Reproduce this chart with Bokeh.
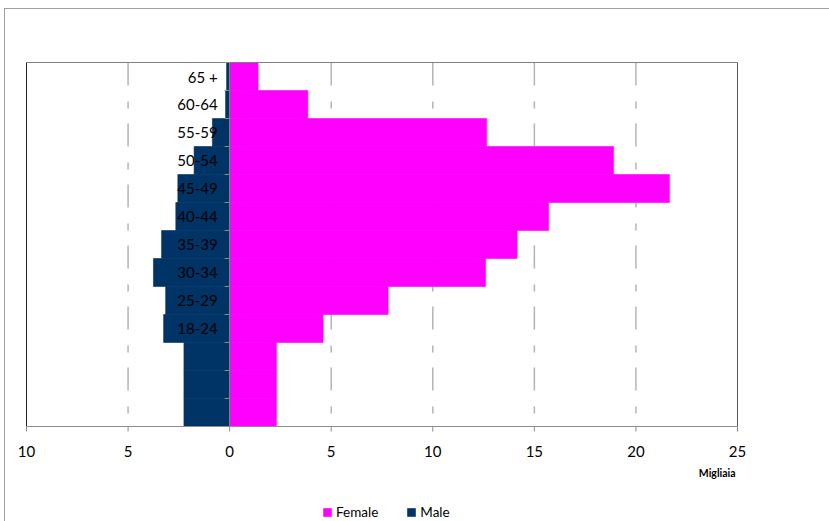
import numpy as np
from bokeh.plotting import figure
from bokeh.models import ColumnDataSource, Legend, LegendItem, Range1d
from bokeh.core.properties import value
from bokeh.embed import file_html
from bokeh.resources import INLINE

# Age groups from oldest (top) to youngest (bottom); last three rows are unlabelled
age_groups = ["65 +", "60-64", "55-59", "50-54", "45-49", "40-44", "35-39",
              "30-34", "25-29", "18-24", "", "", ""]
# Values in thousands (Migliaia)
female = [1.4, 3.85, 12.65, 18.9, 21.65, 15.7, 14.15, 12.6, 7.8, 4.6, 2.3, 2.3, 2.3]
male = [0.15, 0.2, 0.85, 1.75, 2.55, 2.65, 3.35, 3.75, 3.15, 3.25, 2.25, 2.25, 2.25]
x_ticks = [-10, -5, 0, 5, 10, 15, 20, 25]
x_tick_labels = ["10", "5", "0", "5", "10", "15", "20", "25"]
grid_at = [-5, 5, 10, 15, 20]
unit_label = "Migliaia"

n = len(age_groups)
X_MIN, X_MAX = -10, 25
Y_BOT, Y_TOP = -0.5, n - 0.5

# --- page layout (pixels) ---
FIG_W, FIG_H = 825, 513
CANVAS_X0, CANVAS_Y0 = 5, 9          # canvas origin on the page (margin + border)
PLOT_L, PLOT_R = 26, 737             # plot box on the page
PLOT_T, PLOT_B = 62, 426

px_per_x = (PLOT_R - PLOT_L) / (X_MAX - X_MIN)
px_per_y = (PLOT_B - PLOT_T) / (Y_TOP - Y_BOT)
x_range = Range1d(X_MIN - (PLOT_L - CANVAS_X0) / px_per_x,
                  X_MAX + (CANVAS_X0 + FIG_W - PLOT_R) / px_per_x)
y_range = Range1d(Y_BOT - (CANVAS_Y0 + FIG_H - PLOT_B) / px_per_y,
                  Y_TOP + (PLOT_T - CANVAS_Y0) / px_per_y)

src = ColumnDataSource(dict(
    y=[n - 1 - i for i in range(n)],
    female=female,
    male_neg=[-m for m in male],
    label=age_groups,
))

FONT = "Lato"
AXIS_GREY = "#8c8c8c"
PINK = "#FF00FF"
NAVY = "#003366"

p = figure(width=FIG_W, height=FIG_H, output_backend="svg", toolbar_location=None,
           x_range=x_range, y_range=y_range,
           x_axis_location=None, y_axis_location=None,
           min_border=0, min_border_left=0, min_border_right=0,
           min_border_top=0, min_border_bottom=0)
# outer chart border (left and top edges)
p.margin = (8, 0, 0, 4)
p.styles = {"border-left": "1px solid #a0a0a0", "border-top": "1px solid #a0a0a0"}
p.xgrid.visible = False
p.ygrid.visible = False
p.outline_line_color = None

# dashed vertical gridlines, drawn from the top down
p.segment(x0=grid_at, y0=[Y_TOP] * len(grid_at), x1=grid_at,
          y1=[Y_BOT] * len(grid_at), line_color="#b4b4b4", line_width=1.5,
          line_dash="23 16 7 15")

rf = p.hbar(y="y", left=0, right="female", height=1, fill_color=PINK,
            line_color=PINK, line_width=0.6, source=src)
rm = p.hbar(y="y", left="male_neg", right=0, height=1, fill_color=NAVY,
            line_color=NAVY, line_width=0.6, source=src)

# plot box
p.segment(x0=[X_MIN, X_MAX, X_MIN], y0=[Y_TOP, Y_TOP, Y_BOT],
          x1=[X_MAX, X_MAX, X_MIN], y1=[Y_TOP, Y_BOT, Y_TOP],
          line_color=["#7f7f7f", "#5a5a5a", "#222222"], line_width=1)

# value axis along the bottom
p.segment(x0=[X_MIN], y0=[Y_BOT], x1=[X_MAX], y1=[Y_BOT],
          line_color=AXIS_GREY, line_width=1)
p.ray(x=x_ticks, y=[Y_BOT] * len(x_ticks), length=5, length_units="screen",
      angle=-np.pi / 2, line_color=AXIS_GREY, line_width=1)
p.text(x=x_ticks, y=[Y_BOT] * len(x_ticks), text=x_tick_labels, y_offset=25,
       text_align="center", text_baseline="middle", text_font=value(FONT),
       text_font_size="15px", text_color="black")
p.text(x=[X_MAX], y=[Y_BOT], text=[unit_label], x_offset=-2, y_offset=46,
       text_align="right", text_baseline="middle", text_font=value(FONT),
       text_font_size="10.5px", text_font_style="bold", text_color="black")

# category axis sitting at zero
p.segment(x0=[0], y0=[Y_BOT], x1=[0], y1=[Y_TOP], line_color=AXIS_GREY, line_width=1)
p.ray(x=[0] * (n + 1), y=[k - 0.5 for k in range(n + 1)], length=5,
      length_units="screen", angle=np.pi, line_color=AXIS_GREY, line_width=1)
p.text(x=0, y="y", text="label", x_offset=-12, text_align="right",
       text_baseline="middle", text_font=value(FONT), text_font_size="15px",
       text_color="black", source=src)

legend = Legend(items=[LegendItem(label="Female", renderers=[rf]),
                       LegendItem(label="Male", renderers=[rm])],
                orientation="horizontal", location=(322 - CANVAS_X0, 2),
                border_line_color=None, background_fill_alpha=0,
                padding=0, margin=0, spacing=28, label_standoff=4,
                glyph_width=10, glyph_height=10, label_height=12,
                label_text_font=FONT, label_text_font_size="13.5px",
                label_text_color="black")
p.add_layout(legend, "center")

open("out.html", "w").write(file_html(p, INLINE))
